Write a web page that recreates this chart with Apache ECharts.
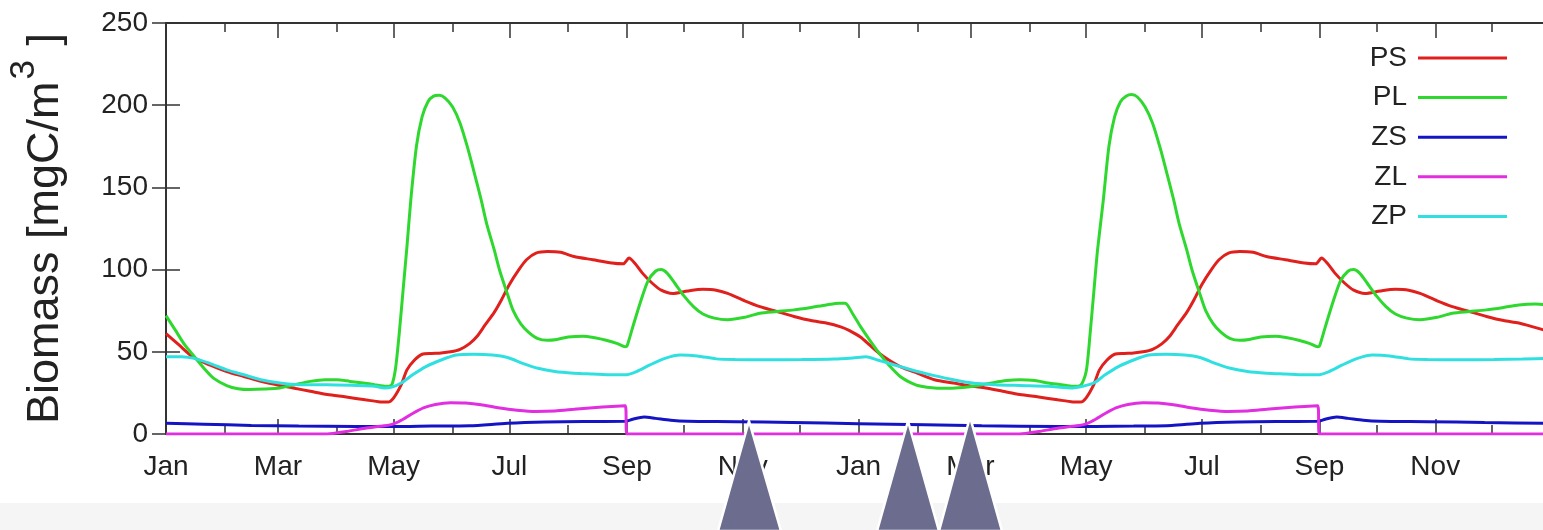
<!DOCTYPE html>
<html>
<head>
<meta charset="utf-8">
<script src="https://cdn.jsdelivr.net/npm/echarts@6.0.0/dist/echarts.min.js"></script>
<style>
  html, body { margin: 0; padding: 0; background: #fff; }
  #chart { width: 1543px; height: 530px; }
</style>
</head>
<body>
<div id="chart"></div>
<script>
// x is "day since 1 Jan of year 1", two years shown
const monthStarts = [0, 31, 59, 90, 120, 151, 181, 212, 243, 273, 304, 334,
  365, 396, 424, 455, 485, 516, 546, 577, 608, 638, 669, 699, 730]
const labelDays = [0, 59, 120, 181, 243, 304, 365, 424, 485, 546, 608, 669]
const labelNames = ['Jan', 'Mar', 'May', 'Jul', 'Sep', 'Nov', 'Jan', 'Mar', 'May', 'Jul', 'Sep', 'Nov']

const seriesNames = ['PS', 'PL', 'ZS', 'ZL', 'ZP']

const psData = [
  [0, 61], [7, 54], [14, 47], [23, 42], [32, 38], [41, 35], [50, 32], [60, 29.5], [67, 28], [76, 26],
  [85, 24], [95, 22.5], [105, 20.8], [113, 19.5], [117, 19.4], [120, 22], [124, 30], [127, 39], [131, 45],
  [135, 48.5], [140, 49], [145, 49.3], [150, 50], [155, 51.5], [160, 55], [164, 59.5], [168, 66], [173, 74],
  [177, 82], [181, 91], [186, 100], [190, 106], [195, 110], [201, 111], [208, 110.5], [215, 108], [225, 106],
  [235, 104], [241, 103.5], [244, 107], [247, 104], [251, 98], [256, 92], [261, 87.5], [267, 85.5], [275, 87],
  [283, 88], [290, 87.5], [296, 85.5], [305, 81], [313, 77.5], [322, 74.5], [331, 71.5], [340, 69], [348, 67.5],
  [356, 65], [360, 63], [366, 59], [371, 54], [376, 49], [381, 45], [387, 41], [396, 37], [405, 33], [415, 31],
  [425, 29], [432, 28], [441, 26], [450, 24], [460, 22.5], [470, 20.8], [478, 19.5], [482, 19.4], [485, 22],
  [489, 30], [492, 39], [496, 45], [500, 48.5], [505, 49], [510, 49.3], [515, 50], [520, 51.5], [525, 55],
  [529, 59.5], [533, 66], [538, 74], [542, 82], [546, 91], [551, 100], [555, 106], [560, 110], [566, 111],
  [573, 110.5], [580, 108], [590, 106], [600, 104], [606, 103.5], [609, 107], [612, 104], [616, 98], [621, 92],
  [626, 87.5], [632, 85.5], [640, 87], [648, 88], [655, 87.5], [661, 85.5], [670, 81], [678, 77.5], [687, 74.5],
  [696, 71.5], [705, 69], [713, 67.5], [721, 65], [730, 62]
]

const plData = [
  [0, 72], [5, 63], [10, 54], [15, 47], [20, 40], [25, 34], [32, 29.5], [38, 27.5], [44, 27], [52, 27.3],
  [60, 28], [68, 30], [76, 32], [84, 33], [90, 33], [97, 32], [104, 31], [110, 30], [116, 29], [119, 30],
  [121, 40], [123, 62], [125, 88], [127, 114], [129, 142], [132, 175], [135, 193], [138, 202], [141, 205.5],
  [144, 206], [147, 204.5], [151, 199], [155, 189], [159, 174], [162, 161], [166, 143], [169, 128], [173, 112],
  [176, 99], [180, 85], [183, 75], [187, 67], [191, 62], [196, 58], [201, 57], [206, 57.5], [212, 59], [220, 59.5],
  [226, 58.5], [232, 57], [238, 55], [242, 53], [243, 53.5], [246, 65], [250, 80], [254, 93], [258, 99], [261, 100],
  [264, 98], [268, 92], [273, 84], [278, 77.5], [283, 73], [289, 70.5], [296, 69.5], [305, 71], [313, 73.5],
  [322, 74.5], [331, 75.5], [340, 77], [348, 78.5], [355, 79.5], [358, 79.5], [362, 73], [366, 65.5], [371, 57],
  [376, 49], [381, 42], [387, 35], [393, 31], [398, 29], [405, 28], [413, 27.8], [420, 28.3], [428, 29.5],
  [435, 31], [443, 32.5], [450, 33], [458, 32.5], [465, 31], [472, 30], [478, 29], [482, 29.5], [485, 38],
  [487, 60], [489, 86], [491, 112], [494, 142], [497, 175], [500, 193], [503, 202], [506, 205.5], [509, 206.5],
  [512, 205], [516, 199], [520, 189], [524, 174], [527, 161], [531, 143], [534, 128], [538, 112], [541, 99],
  [545, 85], [548, 75], [552, 67], [556, 62], [561, 58], [566, 57], [571, 57.5], [577, 59], [585, 59.5],
  [591, 58.5], [597, 57], [603, 55], [607, 53], [608, 53.5], [611, 65], [615, 80], [619, 93], [623, 99],
  [626, 100], [629, 98], [633, 92], [638, 84], [643, 77.5], [648, 73], [654, 70.5], [661, 69.5], [670, 71],
  [678, 73.5], [687, 74.5], [696, 75.5], [705, 77], [713, 78.5], [722, 79], [730, 78.5]
]

const zsData = [
  [0, 6.5], [20, 6], [45, 5.2], [70, 4.8], [100, 4.6], [120, 4.5], [140, 4.8], [160, 5], [180, 6.5], [200, 7.3],
  [220, 7.6], [242, 7.7], [246, 9], [252, 10.3], [258, 9.5], [266, 8.3], [275, 7.7], [300, 7.5], [330, 7],
  [365, 6.3], [400, 5.6], [430, 5], [470, 4.6], [490, 4.6], [510, 4.8], [530, 5.2], [545, 6.5], [565, 7.3],
  [585, 7.6], [607, 7.7], [611, 9], [617, 10.3], [623, 9.5], [631, 8.3], [640, 7.7], [665, 7.5], [695, 7], [730, 6.5]
]

const zlData = [
  [0, 0], [85, 0], [95, 1.5], [105, 3.5], [115, 5], [120, 6.2], [125, 9], [130, 12.5], [136, 16], [142, 18],
  [150, 19], [158, 18.8], [166, 17.8], [175, 16], [185, 14.5], [195, 13.7], [205, 14], [215, 15], [225, 16],
  [235, 16.8], [242, 17.2], [243, 0], [450, 0], [460, 1.5], [470, 3.5], [480, 5], [485, 6.2], [490, 9],
  [495, 12.5], [501, 16], [507, 18], [515, 19], [523, 18.8], [531, 17.8], [540, 16], [550, 14.5], [560, 13.7],
  [570, 14], [580, 15], [590, 16], [600, 16.8], [607, 17.2], [608, 0], [730, 0]
]

const zpData = [
  [0, 47], [8, 47], [15, 46], [23, 43], [32, 39], [41, 36], [50, 33], [60, 31], [70, 30], [85, 30], [100, 29.5],
  [110, 29], [115, 28], [119, 28.5], [124, 31], [130, 36], [137, 41], [145, 45], [153, 48], [162, 48.5], [172, 48],
  [180, 46.5], [188, 43], [196, 40], [205, 38], [215, 37], [225, 36.5], [235, 36], [242, 36], [248, 38], [255, 42],
  [263, 46], [271, 48], [280, 47.5], [290, 45.7], [300, 45.3], [316, 45.2], [335, 45.3], [352, 45.6], [362, 46.3],
  [369, 47], [375, 45], [381, 43], [387, 41], [396, 38], [405, 35.5], [415, 33], [425, 31], [437, 30], [450, 29.5],
  [465, 29], [478, 28], [483, 29], [489, 31], [495, 36], [502, 41], [510, 45], [518, 48], [527, 48.5], [537, 48],
  [545, 46.5], [553, 43], [561, 40], [570, 38], [580, 37], [590, 36.5], [600, 36], [607, 36], [613, 38], [620, 42],
  [628, 46], [636, 48], [645, 47.5], [655, 45.7], [665, 45.3], [681, 45.2], [700, 45.3], [715, 45.6], [730, 46]
]

const allData = [psData, plData, zsData, zlData, zpData]
const colors = ['#e0201c', '#2fd82f', '#1414c4', '#e02ee0', '#30e0e0']

const font = '"Liberation Sans", Arial, sans-serif'
const axisColor = '#333'

const myChart = echarts.init(document.getElementById('chart'))

// gnuplot style x axis: long ticks on labelled months, short ones in between
function xAxisOf(position, ticks, len, withLine, withLabel) {
  return {
    type: 'value',
    position: position,
    min: 0,
    max: 730,
    axisLine: { show: withLine, onZero: false, lineStyle: { color: axisColor, width: 2 } },
    axisTick: {
      show: true,
      inside: true,
      length: len,
      customValues: ticks,
      lineStyle: { color: axisColor, width: 1.5 }
    },
    axisLabel: {
      show: withLabel,
      customValues: labelDays,
      margin: 19,
      color: '#222',
      fontSize: 28,
      fontFamily: font,
      formatter: function (v) {
        const i = labelDays.indexOf(Math.round(v))
        return i < 0 ? '' : labelNames[i]
      }
    },
    splitLine: { show: false }
  }
}

function yAxisOf(position, withLabel) {
  return {
    type: 'value',
    position: position,
    min: 0,
    max: 250,
    interval: 50,
    axisLine: { show: true, lineStyle: { color: axisColor, width: 2 } },
    axisTick: { show: true, inside: true, length: 14, lineStyle: { color: axisColor, width: 1.5 } },
    axisLabel: { show: withLabel, margin: 18, color: '#222', fontSize: 28, fontFamily: font },
    splitLine: { show: false }
  }
}

const yLeft = yAxisOf('left', true)
yLeft.name = '{a|Biomass [mgC/m}{s|3}{a| ]}'
yLeft.nameLocation = 'middle'
yLeft.nameGap = 98
yLeft.nameRotate = 90
yLeft.nameTextStyle = {
  rich: {
    a: { fontSize: 45, lineHeight: 46, fontFamily: font, color: '#222', verticalAlign: 'bottom' },
    s: { fontSize: 35, fontFamily: font, color: '#222', verticalAlign: 'top', padding: [0, 2, 26, 2] }
  }
}

myChart.setOption({
  animation: false,
  backgroundColor: '#fff',
  grid: {
    left: 166,
    right: -8,
    top: 23,
    bottom: 96,
    outerBoundsMode: 'none',
    containLabel: false
  },
  legend: {
    orient: 'vertical',
    align: 'right',
    right: 31,
    top: 39,
    itemWidth: 89,
    itemHeight: 3,
    itemGap: 11.6,
    icon: 'rect',
    data: seriesNames,
    textStyle: { fontSize: 28, lineHeight: 28, fontFamily: font, color: '#222', padding: [0, 6, 0, 0] }
  },
  xAxis: [
    xAxisOf('bottom', monthStarts, 9, true, true),
    xAxisOf('bottom', labelDays, 15, false, false),
    xAxisOf('top', monthStarts, 9, true, false),
    xAxisOf('top', labelDays, 15, false, false)
  ],
  yAxis: [yLeft, yAxisOf('right', false)],
  series: seriesNames.map(function (name, i) {
    return {
      name: name,
      type: 'line',
      xAxisIndex: 0,
      yAxisIndex: 0,
      data: allData[i],
      smooth: 0.25,
      showSymbol: false,
      color: colors[i],
      lineStyle: { width: 3, color: colors[i] },
      z: 2 + i
    }
  }),
  // page overlay seen at the bottom of the screenshot
  graphic: [
    { type: 'rect', z: 90, shape: { x: 0, y: 503, width: 1543, height: 27 }, style: { fill: '#f5f5f5' } },
    { type: 'polygon', z: 100, shape: { points: [[749, 421], [718, 531], [781, 531]] }, style: { fill: '#6c6c8f', stroke: '#fff', lineWidth: 2.5 } },
    { type: 'polygon', z: 100, shape: { points: [[908, 421], [877, 531], [939, 531]] }, style: { fill: '#6c6c8f', stroke: '#fff', lineWidth: 2.5 } },
    { type: 'polygon', z: 101, shape: { points: [[970, 417], [939, 531], [1002, 531]] }, style: { fill: '#6c6c8f', stroke: '#fff', lineWidth: 2.5 } }
  ]
})
</script>
</body>
</html>
